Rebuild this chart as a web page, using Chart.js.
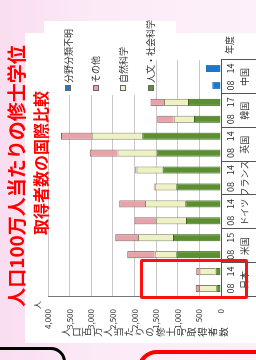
<!DOCTYPE html>
<html>
<head>
<meta charset="utf-8">
<script src="https://cdn.jsdelivr.net/npm/chart.js@4"></script>
<style>
  body { margin:0; width:256px; height:360px; overflow:hidden; position:relative;
         background: linear-gradient(to right, #f9ddf0, #fcebf7 40%, #fdf0fa);
         font-family: 'Noto Sans CJK JP', sans-serif; }
  #frame { position:absolute; left:0; top:0; width:360px; height:256px;
           transform-origin:0 0; transform: translate(0,360px) rotate(-90deg); }
  .abs { position:absolute; white-space:nowrap; }
  #plot { left:17px; top:25px; width:310px; height:231px; background:#fff; }
  .title { color:#ff0000; font-weight:700; text-align:center; }
  #legend { left:265px; top:44px; width:74px; height:111px; background:#fff; }
  #strip { left:300px; top:44px; width:39px; height:132px; background:#fff; }
  .lg { position:absolute; display:flex; align-items:center; font-size:9px; color:#333; height:12px; }
  .lg i { display:inline-block; width:4px; height:4px; border:1px solid #666; margin-right:2px; }
</style>
</head>
<body>
<div id="frame">
  <div id="plot" class="abs"><canvas id="myChart" width="310" height="231"></canvas></div>
  <div id="strip" class="abs"></div>
  <div id="legend" class="abs"></div>
  <div class="abs title" style="left:34px;top:6px;width:300px;font-size:19px;line-height:20px;">人口100万人当たりの修士学位</div>
  <div class="abs title" style="left:97px;top:32px;width:200px;font-size:16px;line-height:17px;">取得者数の国際比較</div>
  <div class="abs" style="left:21px;top:61px;writing-mode:vertical-rl;text-orientation:upright;font-size:9.5px;letter-spacing:1px;color:#333;">人口百万人当たりの修士号取得者数</div>
  <div class="abs" style="left:51px;top:31px;font-size:8px;color:#333;">人</div>
  <div class="abs" style="left:306px;top:224px;font-size:9px;line-height:12px;color:#333;">年度</div>
</div>
<div class="abs" style="left:140px;top:259px;width:108px;height:40px;box-sizing:border-box;border:3px solid #ff1010;border-radius:2px;"></div>
<div class="abs" style="left:-30px;top:347px;width:96px;height:40px;box-sizing:border-box;border:3px solid #000;border-radius:15px;"></div>
<div class="abs" style="left:137px;top:350px;width:150px;height:40px;box-sizing:border-box;border:4px solid #ff0000;border-radius:22px;"></div>
<script>
// categories (年度) and country groups
var years = ['08','14','08','15','08','14','08','14','08','14','08','17','08','14'];
var countries = ['日本','米国','ドイツ','フランス','英国','韓国','中国'];

// values (人口百万人当たり)
var humanities = [110, 125, 1035, 1110, 810, 825, 1035, 1350, 1490, 1820, 625, 765, null, null];
var science    = [400, 370, 495, 810, 690, 930, 495, 605, 905, 1170, 465, 555, null, null];
var other      = [75, 75, 640, 525, 500, 595, 25, 25, 640, 710, 385, 310, null, null];
var unknown    = [null, null, null, null, null, null, null, null, null, null, null, null, 200, 345];

var yTicks = [0, 500, 1000, 1500, 2000, 2500, 3000, 3500, 4000];

var seriesNames = ['人文・社会科学', '自然科学', 'その他', '分野分類不明'];
var fills = ['#5b8f2f', '#eef2c2', '#e7a3a9', '#1f78c6'];
var edges = ['#3c6420', '#85856a', '#8c5a5d', '#1f78c6'];

// legend (top to bottom: unknown, other, science, humanities)
var lg = document.getElementById('legend');
var legendRows = [3, 2, 1, 0];
legendRows.forEach(function (k, i) {
  var d = document.createElement('div');
  d.className = 'lg';
  d.style.left = '4px';
  d.style.top = (18 + i * 27.5) + 'px';
  d.innerHTML = '<i style="background:' + fills[k] + '"></i>' + seriesNames[k];
  lg.appendChild(d);
});

// box lines under the category axis
var tableLines = {
  id: 'tableLines',
  afterDraw: function (chart) {
    var x = chart.scales.x, c = chart.ctx, a = chart.chartArea;
    c.save();
    c.strokeStyle = '#555';
    c.lineWidth = 1;
    for (var g = 0; g <= countries.length; g++) {
      var px = Math.round(x.getPixelForValue(g * 2 - 0.5)) + 0.5;
      c.beginPath();
      c.moveTo(px, a.bottom);
      c.lineTo(px, chart.height);
      c.stroke();
    }
    c.restore();
  }
};

var data = {
  labels: years,
  datasets: [humanities, science, other, unknown].map(function (v, k) {
    return {
      label: seriesNames[k],
      data: v,
      backgroundColor: fills[k],
      borderColor: edges[k],
      borderWidth: 1,
      barPercentage: 0.42,
      categoryPercentage: 1
    };
  })
};

var tickFont = { size: 9, family: "'Noto Sans CJK JP'" };

var ctx = document.getElementById('myChart').getContext('2d');
var myChart = new Chart(ctx, {
  type: 'bar',
  data: data,
  plugins: [tableLines],
  options: {
    responsive: false,
    animation: false,
    devicePixelRatio: 1,
    layout: { padding: { top: 23, right: 27, left: 0, bottom: 0 } },
    plugins: { legend: { display: false }, tooltip: { enabled: false } },
    scales: {
      x: {
        stacked: true,
        offset: true,
        weight: 0,
        grid: { display: false, drawTicks: false, tickLength: 0 },
        border: { display: true, color: '#555' },
        ticks: { font: tickFont, color: '#333', padding: 4, maxRotation: 0, autoSkip: false },
        afterFit: function (s) { s.height = 15; }
      },
      x2: {
        type: 'category',
        labels: countries,
        position: 'bottom',
        offset: true,
        weight: 1,
        grid: { display: false, drawTicks: false, tickLength: 0 },
        border: { display: false },
        ticks: { font: tickFont, color: '#333', padding: 3, maxRotation: 0, autoSkip: false },
        afterFit: function (s) { s.height = 20; }
      },
      y: {
        stacked: true,
        min: yTicks[0],
        max: yTicks[yTicks.length - 1],
        grid: { color: '#c8c8c8', drawTicks: false },
        border: { color: '#777' },
        ticks: {
          stepSize: 500,
          padding: 12,
          color: '#333',
          font: { size: 8, family: "'Noto Sans CJK JP'" },
          callback: function (v) { return v.toLocaleString('en-US'); }
        },
        afterFit: function (s) { s.width = 46; }
      }
    }
  }
});
</script>
</body>
</html>
